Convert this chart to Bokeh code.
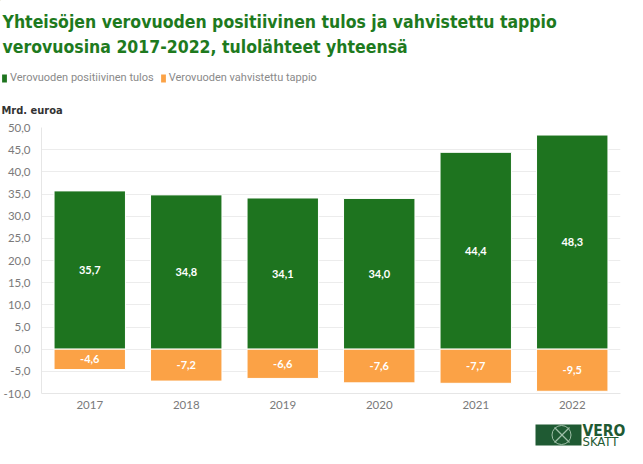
from bokeh.plotting import figure
from bokeh.layouts import column
from bokeh.models import (ColumnDataSource, FactorRange, Range1d, Legend, LegendItem, Label,
                          CustomJSTickFormatter, FixedTicker)
from bokeh.core.properties import value
from bokeh.embed import file_html
from bokeh.resources import INLINE

years = ["2017", "2018", "2019", "2020", "2021", "2022"]
positive = [35.7, 34.8, 34.1, 34.0, 44.4, 48.3]
losses = [-4.6, -7.2, -6.6, -7.6, -7.7, -9.5]
y_ticks = [-10, -5, 0, 5, 10, 15, 20, 25, 30, 35, 40, 45, 50]
series_names = ["Verovuoden positiivinen tulos", "Verovuoden vahvistettu tappio"]
title_lines = ["Yhteisöjen verovuoden positiivinen tulos ja vahvistettu tappio",
               "verovuosina 2017-2022, tulolähteet yhteensä"]
unit_label = "Mrd. euroa"
logo_words = ["VERO", "SKATT"]

GREEN = "#1e741f"
ORANGE = "#fba246"
TITLE_GREEN = "#1e7a1e"
LOGO = "#1f5a33"
NARROW = "DejaVu Sans Condensed"
BODY_FONT = "Lato"
W = 627

def fmt(v):
    return f"{v:.1f}".replace(".", ",")

def bare(fig):
    fig.outline_line_color = None
    fig.xgrid.grid_line_color = None
    fig.ygrid.grid_line_color = None
    fig.frame_align = False
    return fig

# ---------------- header: title, legend, unit ----------------
head = bare(figure(width=W, height=119, x_range=Range1d(0, W), y_range=Range1d(119, 0),
                   x_axis_type=None, y_axis_type=None, output_backend="svg",
                   toolbar_location=None, min_border=0))
for txt, yy in zip(title_lines, [21, 46]):
    head.add_layout(Label(x=2, y=yy, text=txt, text_font=NARROW, text_font_style="bold",
                          text_font_size="17.5px", text_color=TITLE_GREEN,
                          text_baseline="middle"))
head.add_layout(Label(x=1, y=110, text=unit_label, text_font=NARROW, text_font_style="bold",
                      text_font_size="11px", text_color="#333333", text_baseline="middle"))

# off-canvas stand-ins that only lend their colours to the legend swatches
h1 = head.vbar(x=[-100], top=[-100], bottom=[-110], width=1, fill_color=GREEN, line_color=None)
h2 = head.vbar(x=[-100], top=[-100], bottom=[-110], width=1, fill_color=ORANGE, line_color=None)
legend = Legend(items=[LegendItem(label=series_names[0], renderers=[h1]),
                       LegendItem(label=series_names[1], renderers=[h2])],
                orientation="horizontal", location=(1, 35),
                glyph_width=6, glyph_height=10, label_height=12,
                label_text_font="Roboto", label_text_font_size="11px",
                label_text_color="#8a8a8a",
                label_standoff=3, spacing=6, padding=0, margin=0,
                border_line_color=None, background_fill_alpha=0)
head.add_layout(legend, "center")

# ---------------- main chart ----------------
src = ColumnDataSource(dict(
    x=years, pos=positive, neg=losses,
    pos_mid=[v / 2 for v in positive], neg_mid=[v / 2 for v in losses],
    pos_lbl=[fmt(v) for v in positive], neg_lbl=[fmt(v) for v in losses],
))

p = figure(width=W, height=297, x_range=FactorRange(*years), y_range=Range1d(-10, 50),
           output_backend="svg", toolbar_location=None,
           min_border_left=35, min_border_right=7, min_border_top=8, min_border_bottom=23)
p.outline_line_color = None
p.frame_align = False

p.vbar(x="x", top="pos", bottom=0, width=0.74, source=src, fill_color=GREEN,
       line_color="white", line_width=1)
p.vbar(x="x", top=0, bottom="neg", width=0.74, source=src, fill_color=ORANGE,
       line_color="white", line_width=1)

for ycol, tcol in [("pos_mid", "pos_lbl"), ("neg_mid", "neg_lbl")]:
    p.text(x="x", y=ycol, text=tcol, source=src, text_color="white",
           text_font=value(BODY_FONT), text_font_style="bold", text_font_size="11px",
           text_align="center", text_baseline="middle")

p.yaxis.ticker = FixedTicker(ticks=y_ticks)
p.yaxis.formatter = CustomJSTickFormatter(code="return tick.toFixed(1).replace('.', ',');")
for ax in (p.xaxis, p.yaxis):
    ax.major_tick_line_color = None
    ax.minor_tick_line_color = None
    ax.axis_line_color = "#e6e6e6"
    ax.major_label_text_color = "#7a7a7a"
    ax.major_label_text_font = BODY_FONT
    ax.major_label_text_font_size = "11.5px"
p.yaxis.major_label_standoff = 5
p.xaxis.major_label_standoff = 1

p.xgrid.grid_line_color = None
p.ygrid.grid_line_color = "#ececec"
p.ygrid.ticker = FixedTicker(ticks=y_ticks)

# ---------------- footer: logo ----------------
foot = bare(figure(width=W, height=40, x_range=Range1d(0, W), y_range=Range1d(40, 0),
                   x_axis_type=None, y_axis_type=None, output_backend="svg",
                   toolbar_location=None, min_border=0))
foot.quad(left=[535], right=[581], top=[8], bottom=[29], fill_color=LOGO, line_color=None)
foot.scatter(x=[561], y=[18.5], size=19, marker="circle", fill_color=None,
             line_color="#9fbfa8", line_width=1)
foot.segment(x0=[554, 554], y0=[11, 26], x1=[569, 569], y1=[26, 11],
             line_color="#9fbfa8", line_width=1.2)
foot.add_layout(Label(x=582, y=14.5, text=logo_words[0], text_font=NARROW,
                      text_font_style="bold", text_font_size="15.5px", text_color=LOGO,
                      text_baseline="middle"))
foot.add_layout(Label(x=582, y=25, text=logo_words[1], text_font=NARROW,
                      text_font_size="13px", text_color=LOGO, text_baseline="middle"))

layout = column(head, p, foot, spacing=0)
open("out.html", "w").write(file_html(layout, INLINE))
